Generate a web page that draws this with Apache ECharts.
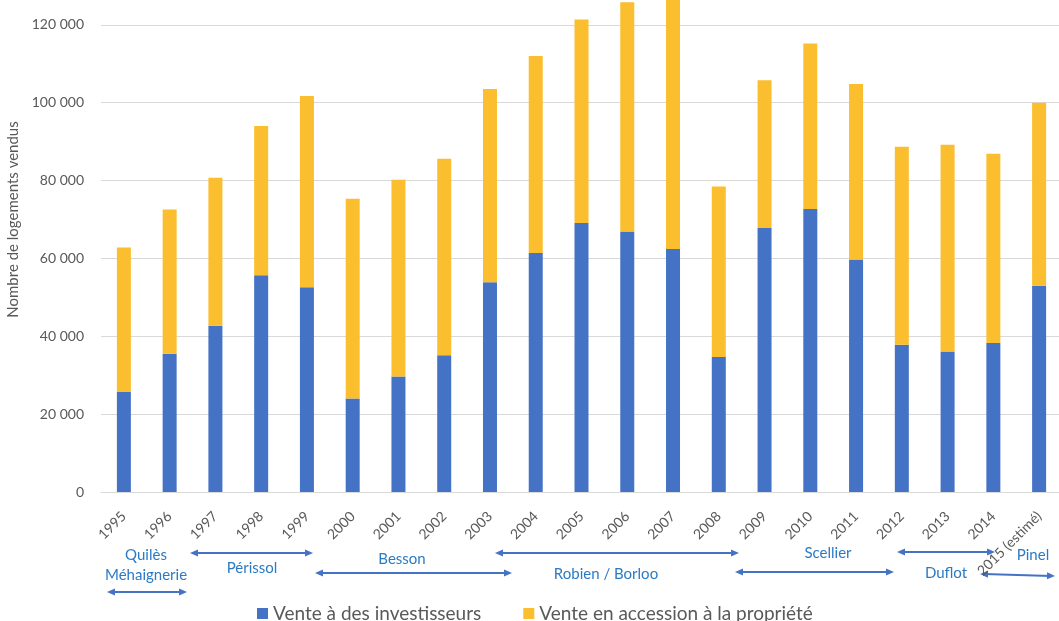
<!DOCTYPE html>
<html>
<head>
<meta charset="utf-8">
<title>Ventes de logements neufs</title>
<script src="https://cdn.jsdelivr.net/npm/echarts@6/dist/echarts.min.js"></script>
</head>
<body style="margin:0;background:#fff">
<div id="main" style="width:1059px;height:621px;"></div>
<script type="text/javascript">
// données
var annees = ['1995', '1996', '1997', '1998', '1999', '2000', '2001', '2002', '2003', '2004', '2005',
	'2006', '2007', '2008', '2009', '2010', '2011', '2012', '2013', '2014', '2015 (estimé)'];
var investisseurs = [25700, 35500, 42700, 55700, 52600, 24000, 29700, 35100, 53900, 61400, 69100,
	66900, 62400, 34700, 67800, 72700, 59700, 37800, 36100, 38300, 53000];
var accession = [37100, 37100, 38000, 38300, 49100, 51300, 50500, 50500, 49600, 50600, 52300,
	58900, 65600, 43800, 38000, 42500, 45100, 50900, 53100, 48600, 47000];
var dispositifs = ['Quilès\nMéhaignerie', 'Périssol', 'Besson', 'Robien / Borloo', 'Scellier', 'Duflot', 'Pinel'];

var gris = '#595959';
var bleuTexte = '#2a7bc4';
var bleuFleche = '#4472C4';

var myChart = echarts.init(document.getElementById('main'));

// flèche double entre deux points
function fleche(x1, y1, x2, y2) {
	var a = Math.atan2(y2 - y1, x2 - x1);
	var L = 8, W = 3.5;
	function tete(x, y, ang) {
		var c = Math.cos(ang), s = Math.sin(ang);
		return [[x, y], [x - L * c + W * s, y - L * s - W * c], [x - L * c - W * s, y - L * s + W * c]];
	}
	return {
		type: 'group',
		children: [
			{ type: 'line', shape: { x1: x1 + 4 * Math.cos(a), y1: y1 + 4 * Math.sin(a), x2: x2 - 4 * Math.cos(a), y2: y2 - 4 * Math.sin(a) },
				style: { stroke: bleuFleche, lineWidth: 2 } },
			{ type: 'polygon', shape: { points: tete(x2, y2, a) }, style: { fill: bleuFleche } },
			{ type: 'polygon', shape: { points: tete(x1, y1, a + Math.PI) }, style: { fill: bleuFleche } }
		]
	};
}

function texte(t, x, y) {
	return {
		type: 'text', x: x, y: y,
		style: { text: t, fill: bleuTexte, font: '15px Lato', align: 'center', verticalAlign: 'middle', lineHeight: 20 }
	};
}

var graphics = [
	texte(dispositifs[0], 146, 565), fleche(107, 592, 187, 592),
	texte(dispositifs[1], 252, 568), fleche(190, 553, 313, 553),
	texte(dispositifs[2], 402, 559), fleche(315, 573, 512, 573),
	texte(dispositifs[3], 606, 574), fleche(495, 553, 739, 553),
	texte(dispositifs[4], 828, 553), fleche(735, 572, 894, 572),
	texte(dispositifs[5], 946, 573), fleche(897, 552, 995, 552),
	texte(dispositifs[6], 1033, 555), fleche(980, 574, 1055, 576)
];

var option = {
	backgroundColor: '#fff',
	animation: false,
	textStyle: { fontFamily: 'Lato' },
	grid: { left: 101, right: -3, top: -53, bottom: 129, containLabel: false, outerBoundsMode: 'none' },
	legend: {
		left: 252, top: 599,
		itemWidth: 11, itemHeight: 11, itemGap: 42,
		icon: 'rect',
		textStyle: { color: gris, fontSize: 19, fontFamily: 'Lato' },
		data: ['Vente à des investisseurs', 'Vente en accession à la propriété']
	},
	xAxis: {
		type: 'category',
		data: annees,
		axisLine: { lineStyle: { color: '#d9d9d9', width: 1 } },
		axisTick: { show: false },
		axisLabel: {
			rotate: 45, color: gris, fontSize: 14, margin: 22, interval: 0,
			hideOverlap: false, overflow: 'none',
			formatter: function (v) { return '{a|' + v + '}'; },
			rich: { a: { fontSize: 14, color: gris, fontFamily: 'Lato' } }
		}
	},
	yAxis: {
		type: 'value',
		min: 0, max: 140000, interval: 20000,
		name: 'Nombre de logements vendus',
		nameLocation: 'middle',
		nameGap: 74,
		nameTextStyle: { color: gris, fontSize: 15 },
		axisLine: { show: false },
		axisTick: { show: false },
		axisLabel: {
			color: gris, fontSize: 14, margin: 17,
			formatter: function (v) { return String(v).replace(/\B(?=(\d{3})+(?!\d))/g, ' '); }
		},
		splitLine: { lineStyle: { color: '#d9d9d9', width: 1 } }
	},
	series: [
		{ name: 'Vente à des investisseurs', type: 'bar', stack: 'total', barWidth: 14,
			itemStyle: { color: '#4472C4' }, data: investisseurs },
		{ name: 'Vente en accession à la propriété', type: 'bar', stack: 'total', barWidth: 14,
			itemStyle: { color: '#FBBE2E' }, data: accession }
	],
	graphic: graphics
};

myChart.setOption(option);
</script>
</body>
</html>
